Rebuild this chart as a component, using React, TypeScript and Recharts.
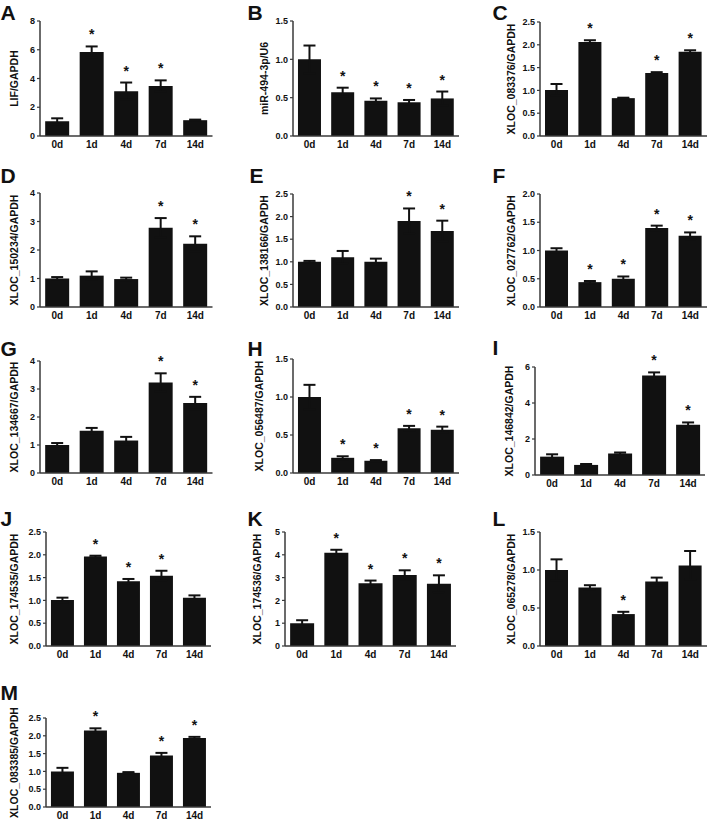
import React from "react";
import { BarChart, Bar, XAxis, YAxis, ErrorBar, LabelList } from "recharts";

const days = ["0d", "1d", "4d", "7d", "14d"];

// mean / SEM / significance for each panel
const aMean = [1.03, 5.85, 3.12, 3.47, 1.1];
const aErr = [0.2, 0.38, 0.6, 0.4, 0.04];
const aStar = [0, 1, 1, 1, 0];

const bMean = [1.0, 0.57, 0.46, 0.44, 0.49];
const bErr = [0.18, 0.06, 0.03, 0.03, 0.09];
const bStar = [0, 1, 1, 1, 1];

const cMean = [1.01, 2.06, 0.83, 1.38, 1.85];
const cErr = [0.13, 0.04, 0.01, 0.02, 0.03];
const cStar = [0, 1, 0, 1, 1];

const dMean = [1.0, 1.1, 0.98, 2.78, 2.22];
const dErr = [0.05, 0.15, 0.05, 0.34, 0.26];
const dStar = [0, 0, 0, 1, 1];

const eMean = [1.0, 1.1, 1.0, 1.9, 1.68];
const eErr = [0.02, 0.14, 0.07, 0.28, 0.23];
const eStar = [0, 0, 0, 1, 1];

const fMean = [1.0, 0.44, 0.5, 1.4, 1.26];
const fErr = [0.04, 0.02, 0.04, 0.04, 0.06];
const fStar = [0, 1, 1, 1, 1];

const gMean = [1.0, 1.51, 1.16, 3.23, 2.5];
const gErr = [0.07, 0.1, 0.13, 0.33, 0.22];
const gStar = [0, 0, 0, 1, 1];

const hMean = [1.0, 0.2, 0.16, 0.59, 0.57];
const hErr = [0.16, 0.02, 0.01, 0.03, 0.04];
const hStar = [0, 1, 1, 1, 1];

const iMean = [1.02, 0.56, 1.19, 5.53, 2.79];
const iErr = [0.13, 0.05, 0.06, 0.17, 0.13];
const iStar = [0, 0, 0, 1, 1];

const jMean = [1.01, 1.96, 1.42, 1.54, 1.06];
const jErr = [0.05, 0.02, 0.05, 0.11, 0.05];
const jStar = [0, 1, 1, 1, 0];

const kMean = [1.0, 4.09, 2.75, 3.11, 2.73];
const kErr = [0.13, 0.13, 0.12, 0.21, 0.37];
const kStar = [0, 1, 1, 1, 1];

const lMean = [1.0, 0.77, 0.42, 0.85, 1.06];
const lErr = [0.14, 0.03, 0.03, 0.05, 0.19];
const lStar = [0, 0, 1, 0, 0];

const mMean = [1.0, 2.15, 0.96, 1.45, 1.94];
const mErr = [0.1, 0.06, 0.02, 0.07, 0.03];
const mStar = [0, 1, 0, 1, 1];

const ticks8 = [0, 2, 4, 6, 8];
const ticks6 = [0, 2, 4, 6];
const ticks5 = [0, 1, 2, 3, 4, 5];
const ticks4 = [0, 1, 2, 3, 4];
const ticks25 = [0, 0.5, 1, 1.5, 2, 2.5];
const ticks20 = [0, 0.5, 1, 1.5, 2];
const ticks15 = [0, 0.5, 1, 1.5];

const ink = "#111";
const axisColor = "#3a3a3a";

type PanelProps = {
  letter: string;
  ylabel: string;
  mean: number[];
  err: number[];
  star: number[];
  ticks: number[];
  decimals: number;
  x: number; // y-axis position
  right: number;
  top: number;
  bottom: number;
  labelX: number;
  letterX: number;
  letterY: number;
};

function Panel(p: PanelProps) {
  const YW = 50;
  const MT = 28;
  const MR = 3;
  const XH = 22;
  const plotW = p.right - p.x;
  const plotH = p.bottom - p.top;
  const data = days.map((d, i) => ({
    day: d,
    mean: p.mean[i],
    err: p.err[i],
    star: p.star[i] ? "*" : "",
  }));

  const renderStar = (props: any) => {
    const { index, value } = props;
    if (!value) return null;
    const x = Number(props.x);
    const y = Number(props.y);
    const w = Number(props.width);
    const h = Number(props.height);
    const capY = y - (p.err[index] * h) / p.mean[index];
    return (
      <text x={x + w / 2} y={capY - 7} textAnchor="middle" fontSize={14} fontWeight="bold" fill={ink}>
        *
      </text>
    );
  };

  return (
    <>
      <div
        style={{
          position: "absolute",
          left: p.letterX - 1.5,
          top: p.letterY - 3,
          fontSize: 21,
          fontWeight: "bold",
          lineHeight: 1,
          color: ink,
        }}
      >
        {p.letter}
      </div>
      <div style={{ position: "absolute", left: p.x - YW, top: p.top - MT }}>
        <BarChart
          width={YW + plotW + MR}
          height={MT + plotH + XH}
          data={data}
          margin={{ top: MT, right: MR, left: 0, bottom: 0 }}
          barCategoryGap="15%"
        >
          <XAxis
            dataKey="day"
            height={XH}
            interval={0}
            axisLine={{ stroke: axisColor, strokeWidth: 1.5 }}
            tickLine={false}
            tickSize={4}
            tickMargin={1}
            tick={{ fontSize: 10, fontWeight: "bold", fill: ink }}
          />
          <YAxis
            width={YW}
            domain={[0, p.ticks[p.ticks.length - 1]]}
            ticks={p.ticks}
            interval={0}
            axisLine={{ stroke: axisColor, strokeWidth: 1.5 }}
            tickLine={{ stroke: axisColor, strokeWidth: 1.2 }}
            tickSize={3}
            tickMargin={2}
            tick={{ fontSize: 9, fontWeight: "bold", fill: ink }}
            tickFormatter={(v: number) => v.toFixed(p.decimals)}
            label={{
              value: p.ylabel,
              angle: -90,
              position: "center",
              dx: p.labelX - p.x + YW / 2,
              style: { fontSize: 10.5, fontWeight: "bold", fill: ink },
            }}
          />
          <Bar dataKey="mean" fill={ink} isAnimationActive={false}>
            <ErrorBar dataKey="err" direction="y" width={6} strokeWidth={2} stroke={ink} />
            <LabelList dataKey="star" content={renderStar} />
          </Bar>
        </BarChart>
      </div>
    </>
  );
}

export default function App() {
  return (
    <div
      style={{
        position: "absolute",
        left: 0,
        top: 0,
        width: 709,
        height: 835,
        background: "#fff",
        overflow: "hidden",
        fontFamily: '"Liberation Sans", Arial, sans-serif',
      }}
    >
      <Panel letter="A" ylabel="LIF/GAPDH" mean={aMean} err={aErr} star={aStar} ticks={ticks8} decimals={0}
        x={39.5} right={212} top={21} bottom={136} labelX={14} letterX={2} letterY={5} />
      <Panel letter="B" ylabel="miR-494-3p/U6" mean={bMean} err={bErr} star={bStar} ticks={ticks15} decimals={1}
        x={293} right={459} top={21} bottom={136} labelX={264} letterX={249} letterY={5} />
      <Panel letter="C" ylabel="XLOC_083376/GAPDH" mean={cMean} err={cErr} star={cStar} ticks={ticks25} decimals={1}
        x={540} right={707} top={22} bottom={136} labelX={511} letterX={494} letterY={5} />

      <Panel letter="D" ylabel="XLOC_150234/GAPDH" mean={dMean} err={dErr} star={dStar} ticks={ticks4} decimals={0}
        x={39.5} right={212} top={193} bottom={307} labelX={14} letterX={2} letterY={168} />
      <Panel letter="E" ylabel="XLOC_138166/GAPDH" mean={eMean} err={eErr} star={eStar} ticks={ticks25} decimals={1}
        x={293} right={459} top={194} bottom={307} labelX={264} letterX={251} letterY={168} />
      <Panel letter="F" ylabel="XLOC_027762/GAPDH" mean={fMean} err={fErr} star={fStar} ticks={ticks20} decimals={1}
        x={540} right={707} top={194} bottom={307} labelX={511} letterX={494} letterY={168} />

      <Panel letter="G" ylabel="XLOC_134667/GAPDH" mean={gMean} err={gErr} star={gStar} ticks={ticks4} decimals={0}
        x={39.5} right={212} top={361} bottom={473} labelX={14} letterX={2} letterY={341} />
      <Panel letter="H" ylabel="XLOC_056487/GAPDH" mean={hMean} err={hErr} star={hStar} ticks={ticks15} decimals={1}
        x={293} right={459} top={359} bottom={473} labelX={259} letterX={249} letterY={341} />
      <Panel letter="I" ylabel="XLOC_146842/GAPDH" mean={iMean} err={iErr} star={iStar} ticks={ticks6} decimals={0}
        x={535} right={705} top={367} bottom={475} labelX={509} letterX={494} letterY={340} />

      <Panel letter="J" ylabel="XLOC_174535/GAPDH" mean={jMean} err={jErr} star={jStar} ticks={ticks25} decimals={1}
        x={46} right={211} top={532} bottom={646} labelX={14} letterX={2} letterY={511} />
      <Panel letter="K" ylabel="XLOC_174536/GAPDH" mean={kMean} err={kErr} star={kStar} ticks={ticks5} decimals={0}
        x={285} right={456} top={532} bottom={646} labelX={257} letterX={249} letterY={511} />
      <Panel letter="L" ylabel="XLOC_065278/GAPDH" mean={lMean} err={lErr} star={lStar} ticks={ticks15} decimals={1}
        x={540} right={707} top={532} bottom={646} labelX={511} letterX={494} letterY={511} />

      <Panel letter="M" ylabel="XLOC_083385/GAPDH" mean={mMean} err={mErr} star={mStar} ticks={ticks25} decimals={1}
        x={46} right={211} top={718} bottom={807} labelX={14} letterX={2} letterY={685} />
    </div>
  );
}
